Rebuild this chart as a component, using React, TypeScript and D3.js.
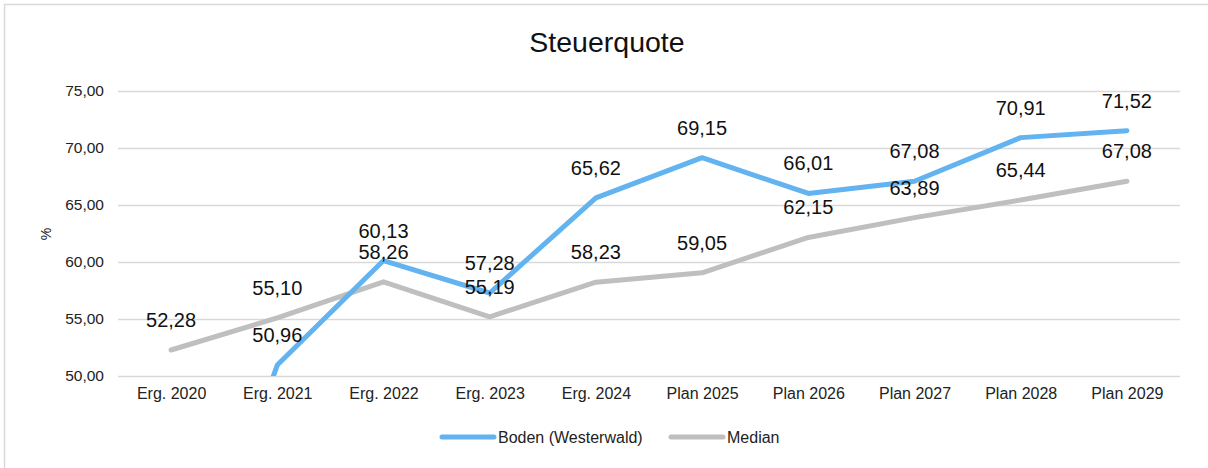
import React, { useEffect, useRef } from "react";
import * as d3 from "d3";

// data
const categories = ["Erg. 2020", "Erg. 2021", "Erg. 2022", "Erg. 2023", "Erg. 2024", "Plan 2025", "Plan 2026", "Plan 2027", "Plan 2028", "Plan 2029"];
const boden = [25.0, 50.96, 60.13, 57.28, 65.62, 69.15, 66.01, 67.08, 70.91, 71.52];
const median = [52.28, 55.1, 58.26, 55.19, 58.23, 59.05, 62.15, 63.89, 65.44, 67.08];
const yTicks = [50, 55, 60, 65, 70, 75];
const seriesNames = ["Boden (Westerwald)", "Median"];

const fmt = (v: number) => v.toFixed(2).replace(".", ",");

export default function App() {
  const ref = useRef<SVGSVGElement>(null);

  useEffect(() => {
    const width = 1208;
    const height = 468;
    const margin = { top: 91, right: 28, bottom: 92, left: 118 };
    const font = "'Liberation Sans', Arial, sans-serif";

    const svg = d3.select(ref.current);
    svg.selectAll("*").remove();

    svg.append("rect")
      .attr("x", 4.5).attr("y", 4.5)
      .attr("width", width + 10).attr("height", height + 10)
      .attr("fill", "#fff")
      .attr("stroke", "#d9d9d9")
      .attr("stroke-width", 1.5);

    const x = d3.scalePoint<string>()
      .domain(categories)
      .range([margin.left, width - margin.right])
      .padding(0.5);

    const y = d3.scaleLinear()
      .domain([50, 75])
      .range([height - margin.bottom, margin.top]);

    svg.append("defs").append("clipPath").attr("id", "plotClip")
      .append("rect")
      .attr("x", margin.left).attr("y", margin.top - 10)
      .attr("width", width - margin.left - margin.right)
      .attr("height", height - margin.bottom - margin.top + 10);

    // title
    svg.append("text")
      .attr("x", 607).attr("y", 52)
      .attr("text-anchor", "middle")
      .attr("font-family", font)
      .attr("font-size", 28.5)
      .attr("fill", "#111")
      .text("Steuerquote");

    // grid + y labels
    const yAxis = d3.axisLeft(y)
      .tickValues(yTicks)
      .tickSize(-(width - margin.left - margin.right))
      .tickPadding(14)
      .tickFormat(d => fmt(d as number));
    const gy = svg.append("g")
      .attr("transform", `translate(${margin.left},0)`)
      .call(yAxis);
    gy.select(".domain").remove();
    gy.selectAll(".tick line").attr("stroke", "#d9d9d9").attr("stroke-width", 1.5);
    gy.selectAll(".tick text")
      .attr("font-family", font).attr("font-size", 15.5).attr("fill", "#222");

    svg.append("text")
      .attr("transform", `translate(51,234) rotate(-90)`)
      .attr("text-anchor", "middle")
      .attr("font-family", font)
      .attr("font-size", 14)
      .attr("fill", "#222")
      .text("%");

    // x labels
    const xAxis = d3.axisBottom(x).tickSize(0).tickPadding(12);
    const gx = svg.append("g")
      .attr("transform", `translate(0,${height - margin.bottom})`)
      .call(xAxis);
    gx.select(".domain").remove();
    gx.selectAll(".tick text")
      .attr("font-family", font).attr("font-size", 16).attr("fill", "#222");

    const series = [
      { name: seriesNames[0], values: boden, color: "#62b3f0" },
      { name: seriesNames[1], values: median, color: "#bfbfbf" },
    ];

    const line = d3.line<number>()
      .x((_, i) => x(categories[i]) as number)
      .y(d => y(d));

    // draw median first so blue sits on top
    [...series].reverse().forEach(s => {
      svg.append("path")
        .datum(s.values)
        .attr("clip-path", "url(#plotClip)")
        .attr("fill", "none")
        .attr("stroke", s.color)
        .attr("stroke-width", 5)
        .attr("stroke-linejoin", "round")
        .attr("stroke-linecap", "round")
        .attr("d", line);
    });

    series.forEach(s => {
      svg.append("g")
        .selectAll("text")
        .data(s.values.map((v, i) => ({ v, c: categories[i] })).filter(d => d.v >= 50))
        .join("text")
        .attr("x", d => x(d.c) as number)
        .attr("y", d => y(d.v) - 23)
        .attr("text-anchor", "middle")
        .attr("font-family", font)
        .attr("font-size", 20)
        .attr("fill", "#111")
        .text(d => fmt(d.v));
    });

    // legend
    const legend = svg.append("g").attr("transform", "translate(0,437)");
    const legendX = [442, 671];
    series.forEach((s, i) => {
      legend.append("line")
        .attr("x1", legendX[i]).attr("x2", legendX[i] + 52)
        .attr("y1", 0).attr("y2", 0)
        .attr("stroke", s.color)
        .attr("stroke-width", 5)
        .attr("stroke-linecap", "round");
      legend.append("text")
        .attr("x", legendX[i] + 56).attr("y", 5.5)
        .attr("font-family", font)
        .attr("font-size", 16)
        .attr("fill", "#222")
        .text(s.name);
    });
  }, []);

  return (
    <svg ref={ref} width={1208} height={468}
      style={{ position: "absolute", left: 0, top: 0, display: "block" }} />
  );
}
